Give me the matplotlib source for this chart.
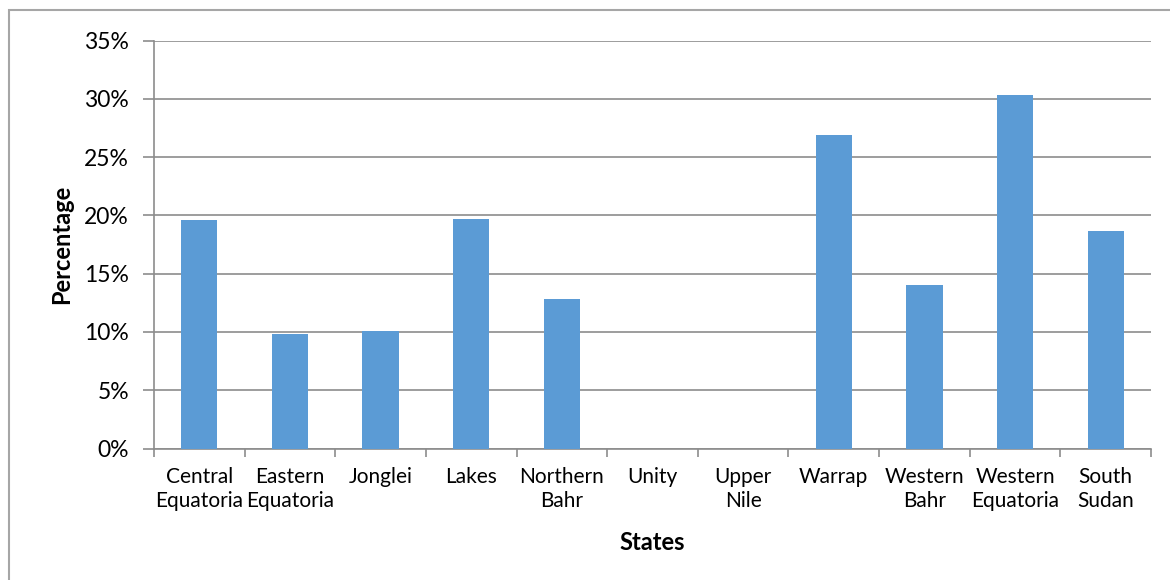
import matplotlib
matplotlib.use("Agg")
import numpy as np
import matplotlib.pyplot as plt
from matplotlib.patches import Rectangle
from matplotlib.ticker import PercentFormatter

plt.rcParams['font.family'] = ['Lato', 'DejaVu Sans']

# Share of each state (percent)
states = ["Central\nEquatoria", "Eastern\nEquatoria", "Jonglei", "Lakes", "Northern\nBahr",
          "Unity", "Upper\nNile", "Warrap", "Western\nBahr", "Western\nEquatoria", "South\nSudan"]
values = [19.6, 9.85, 10.1, 19.7, 12.85, 0, 0, 26.9, 14.05, 30.3, 18.7]

bar_color = "#5B9BD5"
grid_color = "#8C8C8C"

fig = plt.figure(figsize=(11.7, 5.8), dpi=100)
ax = fig.add_axes([154 / 1170, 131.5 / 580, 997 / 1170, 408 / 580])

index = np.arange(len(states))
ax.bar(index, values, width=0.4, color=bar_color, zorder=3)

ax.set_xlim(-0.5, len(states) - 0.5)
ax.set_ylim(0, 35)
ax.set_yticks(np.arange(0, 36, 5))
ax.yaxis.set_major_formatter(PercentFormatter(decimals=0))
ax.grid(axis='y', color=grid_color, lw=1.2, zorder=0)

ax.set_xticks(index)
ax.set_xticklabels(states, fontsize=15, linespacing=1.3)
ax.set_xticks(np.arange(-0.5, len(states)), minor=True)
ax.tick_params(axis='x', which='major', length=0, pad=13)
ax.tick_params(axis='x', which='minor', length=6, color=grid_color, width=1.2)
ax.tick_params(axis='y', length=8, color=grid_color, width=1.2, pad=10, labelsize=16.5)

for side in ['top', 'right']:
    ax.spines[side].set_visible(False)
for side in ['left', 'bottom']:
    ax.spines[side].set_color(grid_color)
    ax.spines[side].set_linewidth(1.2)

ax.set_ylabel("Percentage", fontsize=17, fontweight='bold', labelpad=8)
ax.set_xlabel("States", fontsize=17, fontweight='bold', labelpad=14)

# chart area border (top and left edges visible)
fig.add_artist(Rectangle((9 / 1170, -0.1), 1.2, 1.1 - 10 / 580, transform=fig.transFigure,
                         fill=False, edgecolor="#A6A6A6", lw=1.5))

fig.savefig("out.png", dpi=100)
